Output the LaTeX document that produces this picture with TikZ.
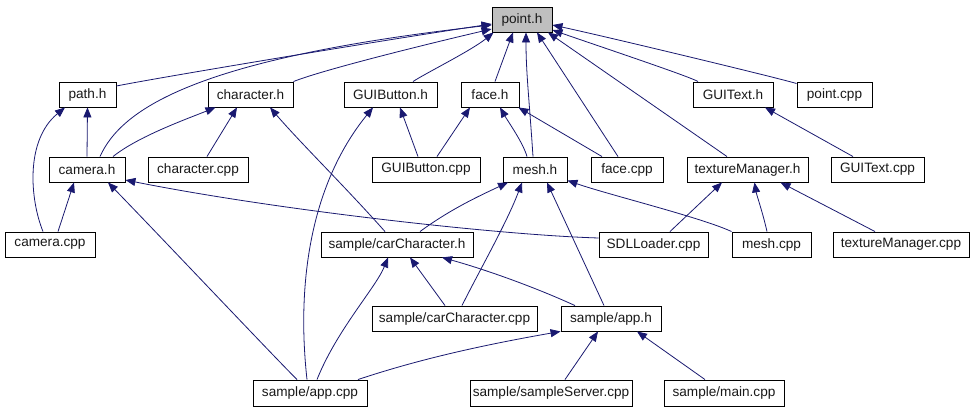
\documentclass[tikz,border=0pt]{standalone}
\usepackage{fontspec}
\setmainfont{Liberation Sans}
\usetikzlibrary{arrows.meta,calc}
\definecolor{edgeblue}{HTML}{191970}
\definecolor{ptgray}{HTML}{BFBFBF}
\newcommand{\nodefontx}{\fontsize{13.6}{15}\selectfont}
\tikzset{
  box/.style={draw=black, line width=0.9pt, inner sep=0pt, minimum height=25pt, font=\nodefontx, text=black!90},
  dep/.style={draw=edgeblue, line width=0.8pt, -{Triangle[length=10pt,width=8pt]}}
}
\begin{document}
\begin{tikzpicture}[x=1pt,y=-1pt]
\useasboundingbox[fill=white] (0,0) rectangle (975,411);
% row 1
\node[box, minimum width=60pt, fill=ptgray] (pt) at (522,19.5) {point.h};
% row 2
\node[box, minimum width=57pt] (path) at (87.5,94.5) {path.h};
\node[box, minimum width=85pt] (charh) at (250.5,94.5) {character.h};
\node[box, minimum width=93pt] (guibh) at (390.5,94.5) {GUIButton.h};
\node[box, minimum width=58pt] (faceh) at (490,94.5) {face.h};
\node[box, minimum width=80pt] (guith) at (733,94.5) {GUIText.h};
\node[box, minimum width=75pt] (pointcpp) at (834.5,94.5) {point.cpp};
% row 3
\node[box, minimum width=76pt] (camh) at (87,169.5) {camera.h};
\node[box, minimum width=100pt] (charcpp) at (198,169.5) {character.cpp};
\node[box, minimum width=108pt] (guibcpp) at (426,169.5) {GUIButton.cpp};
\node[box, minimum width=64pt] (meshh) at (535,169.5) {mesh.h};
\node[box, minimum width=72pt] (facecpp) at (627,169.5) {face.cpp};
\node[box, minimum width=121pt] (texh) at (747.5,169.5) {textureManager.h};
\node[box, minimum width=93pt] (guitcpp) at (877.5,169.5) {GUIText.cpp};
% row 4
\node[box, minimum width=90pt] (camcpp) at (50,244.5) {camera.cpp};
\node[box, minimum width=152pt] (carh) at (397,244.5) {sample/carCharacter.h};
\node[box, minimum width=109pt] (sdl) at (653.5,244.5) {SDLLoader.cpp};
\node[box, minimum width=79pt] (meshcpp) at (771.5,244.5) {mesh.cpp};
\node[box, minimum width=136pt] (texcpp) at (901,244.5) {textureManager.cpp};
% row 5
\node[box, minimum width=165pt] (carcpp) at (454.5,318.5) {sample/carCharacter.cpp};
\node[box, minimum width=100pt] (apph) at (611,318.5) {sample/app.h};
% row 6
\node[box, minimum width=114pt, minimum height=26pt] (appcpp) at (310,393) {sample/app.cpp};
\node[box, minimum width=162pt, minimum height=26pt] (server) at (551,393) {sample/sampleServer.cpp};
\node[box, minimum width=120pt, minimum height=26pt] (main) at (724,393) {sample/main.cpp};

% edges into point.h
\draw[dep] ($(path.east)+(0,-8.5)$) .. controls +(40,-8) and +(-120,18) .. ($(pt.west)+(0,4.5)$);
\draw[dep] ($(camh.north)+(13,0)$) .. controls +(22,-49) and +(-292,33) .. ($(pt.west)+(0,5.5)$);
\draw[dep] (charh.north east) .. controls +(30,-12) and +(-60,14) .. ($(pt.west)+(0,9.5)$);
\draw[dep] ($(guibh.north)+(22.5,0)$) .. controls +(12,-8) and +(-22,18) .. ($(pt.south west)+(2,0)$);
\draw[dep] ($(faceh.north)+(5,0)$) -- ($(pt.south)+(-9,0)$);
\draw[dep] ($(meshh.north)+(-2,0)$) .. controls +(-4,-60) and +(0,40) .. ($(pt.south)+(4,0)$);
\draw[dep] ($(facecpp.north)+(-9,0)$) -- ($(pt.south)+(15,0)$);
\draw[dep] ($(texh.north)+(-20.5,0)$) -- ($(pt.south)+(26,0)$);
\draw[dep] ($(guith.north)+(-35,0)$) .. controls +(-8,-5) and +(40,14) .. ($(pt.east)+(0,10.5)$);
\draw[dep] ($(pointcpp.north west)+(0,2)$) .. controls +(-12,-4) and +(60,13) .. ($(pt.east)+(0,5.5)$);
% path.h
\draw[dep] ($(camcpp.north)+(-7,0)$) .. controls +(-13,-32) and +(-40,33) .. ($(path.south)+(-22.5,0)$);
\draw[dep] ($(camh.north)+(0,0)$) -- (path.south);
% camera.h
\draw[dep] ($(camcpp.north)+(8,0)$) -- ($(camh.south)+(-13,0)$);
\draw[dep] ($(sdl.west)+(0,-6.5)$) .. controls +(-100,-3) and +(150,30) .. ($(camh.east)+(0,10.5)$);
\draw[dep] ($(appcpp.north)+(-13,0)$) .. controls +(-25,-25) and +(60,62) .. ($(camh.south)+(21,0)$);
% character.h
\draw[dep] ($(camh.north)+(26,0)$) .. controls +(25,-20) and +(-30,12) .. ($(charh.south)+(-35,0)$);
\draw[dep] ($(charcpp.north)+(9,0)$) -- ($(charh.south)+(-13.5,0)$);
\draw[dep] ($(carh.north)+(-12,0)$) .. controls +(-40,-45) and +(30,35) .. ($(charh.south)+(19.5,0)$);
% GUIButton.h
\draw[dep] ($(appcpp.north)+(-3,0)$) .. controls +(-10,-90) and +(-65,80) .. ($(guibh.south)+(-17.5,0)$);
\draw[dep] ($(guibcpp.north)+(-8,0)$) -- ($(guibh.south)+(9.5,0)$);
% face.h
\draw[dep] ($(guibcpp.north)+(11,0)$) -- ($(faceh.south)+(-20,0)$);
\draw[dep] ($(meshh.north)+(-8,0)$) .. controls +(-4,-14) and +(8,14) .. ($(faceh.south)+(10,0)$);
\draw[dep] ($(facecpp.north)+(-25,0)$) -- ($(faceh.south east)+(-1,0)$);
% mesh.h
\draw[dep] ($(carh.north)+(23,0)$) .. controls +(30,-22) and +(-30,14) .. ($(meshh.south)+(-27,0)$);
\draw[dep] ($(carcpp.north)+(7.5,0)$) .. controls +(18,-36) and +(-15,40) .. ($(meshh.south)+(-13,0)$);
\draw[dep] ($(apph.north)+(-7,0)$) -- ($(meshh.south)+(12,0)$);
\draw[dep] (meshcpp.north west) .. controls +(-30,-14) and +(40,14) .. ($(meshh.south east)+(0,-2)$);
% textureManager.h
\draw[dep] ($(sdl.north)+(16.5,0)$) -- ($(texh.south)+(-25.5,0)$);
\draw[dep] ($(meshcpp.north)+(-4.5,0)$) .. controls +(-4,-18) and +(2,12) .. ($(texh.south)+(7,0)$);
\draw[dep] ($(texcpp.north)+(-26,0)$) -- ($(texh.south)+(33,0)$);
% GUIText.h
\draw[dep] ($(guitcpp.north)+(-24.5,0)$) -- ($(guith.south)+(32,0)$);
% sample/carCharacter.h
\draw[dep] ($(carcpp.north)+(-9.5,0)$) -- ($(carh.south)+(13,0)$);
\draw[dep] ($(appcpp.north)+(7,0)$) .. controls +(20,-50) and +(-12,30) .. ($(carh.south)+(-9,0)$);
\draw[dep] ($(apph.north)+(-36,0)$) .. controls +(-35,-16) and +(50,14) .. ($(carh.south)+(45,0)$);
% sample/app.h
\draw[dep] ($(appcpp.north)+(48,0)$) .. controls +(60,-20) and +(-80,14) .. (apph.south west);
\draw[dep] ($(server.north)+(14,0)$) -- ($(apph.south)+(-13,0)$);
\draw[dep] ($(main.north)+(-19,0)$) -- ($(apph.south)+(26,0)$);
\end{tikzpicture}
\end{document}
